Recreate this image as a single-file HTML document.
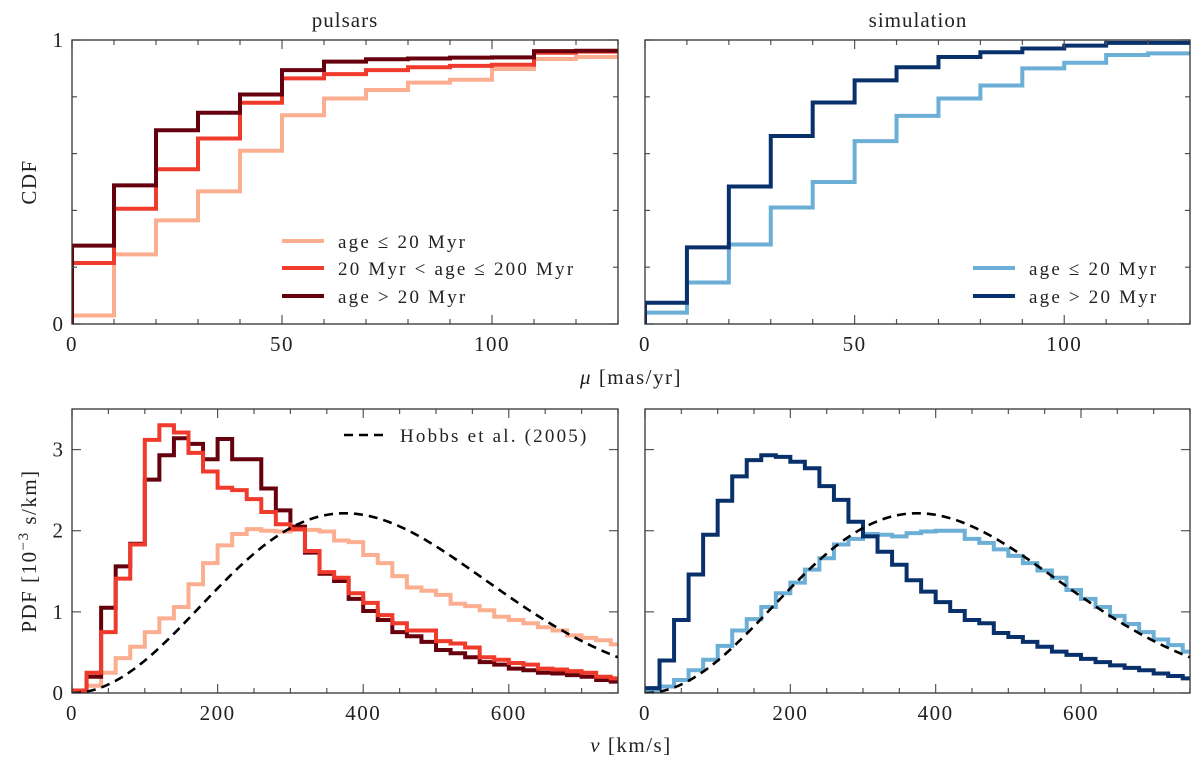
<!DOCTYPE html>
<html><head><meta charset="utf-8"><style>
html,body{margin:0;padding:0;background:#fff;}
svg text{font-family:"Liberation Serif","DejaVu Serif",serif;fill:#222;}
</style></head><body>
<svg id="fig" xmlns="http://www.w3.org/2000/svg" width="1200" height="764" viewBox="0 0 1200 764">
<text x="345" y="27" font-size="21" letter-spacing="1" text-anchor="middle">pulsars</text>
<text x="918" y="27" font-size="21" letter-spacing="1" text-anchor="middle">simulation</text>
<text x="631" y="384" font-size="21" letter-spacing="1.5" text-anchor="middle"><tspan font-style="italic">μ</tspan>  [mas/yr]</text>
<text x="631" y="752" font-size="21" letter-spacing="1.5" text-anchor="middle"><tspan font-style="italic">v</tspan>  [km/s]</text>
<text transform="translate(36,182) rotate(-90)" font-size="21" letter-spacing="1.5" text-anchor="middle">CDF</text>
<text transform="translate(36,551) rotate(-90)" font-size="21" letter-spacing="1.5" text-anchor="middle">PDF  [10<tspan dy="-8" font-size="15">−3</tspan><tspan dy="8"> s/km]</tspan></text>
<g id="plots"></g>
</svg>
<script>
// ---- data ----
const muEdgesStep = 10;
const cdfPulsarYoung = [0.03,0.245,0.365,0.467,0.61,0.735,0.794,0.824,0.85,0.86,0.898,0.933,0.94];
const cdfPulsarMid   = [0.215,0.406,0.545,0.653,0.779,0.865,0.88,0.894,0.904,0.909,0.913,0.955,0.959];
const cdfPulsarOld   = [0.276,0.488,0.682,0.744,0.808,0.894,0.924,0.932,0.935,0.938,0.939,0.961,0.962];
const cdfSimYoung = [0.04,0.146,0.28,0.41,0.5,0.644,0.733,0.794,0.84,0.9,0.92,0.947,0.953];
const cdfSimOld   = [0.075,0.27,0.484,0.662,0.78,0.858,0.904,0.94,0.957,0.97,0.98,0.99,0.99];
const vBinStep = 20;
const pdfPulsarMid = [0.03,0.25,0.75,1.41,1.83,3.12,3.3,3.21,2.96,2.73,2.53,2.5,2.39,2.23,2.08,2.02,1.75,1.49,1.42,1.23,1.11,0.96,0.86,0.77,0.77,0.64,0.61,0.56,0.44,0.41,0.37,0.35,0.3,0.29,0.27,0.25,0.2,0.18];
const pdfPulsarOld = [0.03,0.2,1.05,1.56,1.84,2.63,2.93,3.14,3.07,2.88,3.13,2.88,2.88,2.52,2.25,2.05,1.73,1.47,1.38,1.16,1.01,0.9,0.75,0.7,0.63,0.53,0.49,0.44,0.38,0.35,0.3,0.28,0.25,0.24,0.22,0.2,0.16,0.14];
const pdfPulsarYoung = [0.03,0.09,0.25,0.43,0.57,0.75,0.92,1.06,1.34,1.6,1.82,1.96,2.02,2.0,1.99,2.01,2.01,1.99,1.88,1.86,1.7,1.6,1.44,1.3,1.26,1.21,1.1,1.07,1.02,0.94,0.9,0.86,0.81,0.77,0.71,0.68,0.65,0.6];
const pdfSimOld = [0.06,0.4,0.9,1.46,1.95,2.37,2.67,2.87,2.93,2.91,2.85,2.77,2.55,2.38,2.11,1.93,1.74,1.58,1.39,1.25,1.12,1.01,0.9,0.86,0.74,0.69,0.63,0.57,0.51,0.47,0.42,0.38,0.34,0.31,0.28,0.24,0.21,0.18];
const pdfSimYoung = [0.02,0.08,0.16,0.28,0.41,0.58,0.77,0.91,1.06,1.23,1.36,1.52,1.66,1.83,1.9,1.96,1.95,1.93,1.97,1.99,2.0,2.0,1.9,1.85,1.77,1.69,1.6,1.51,1.42,1.27,1.16,1.06,0.95,0.85,0.75,0.66,0.59,0.51];
const hobbsSigma = 265; // km/s, Maxwellian
const muTickLabels = ["0","50","100"];
const cdfTickLabels = ["0","1"];
const vTickLabels = ["0","200","400","600"];
const pdfTickLabels = ["0","1","2","3"];

const NS = "http://www.w3.org/2000/svg";
const root = document.getElementById('plots');
function mk(tag, attrs, parent){const e=document.createElementNS(NS,tag);for(const k in attrs)e.setAttribute(k,attrs[k]);(parent||root).appendChild(e);return e;}

function panel(name, x0,x1,y0,y1, xmax,ymax, xMajor,xMinor,yMajor,yMinor, xLabels,yLabels){
  const g=mk('g',{});
  
  
  const sx=v=>x0+(v/xmax)*(x1-x0), sy=v=>y1-(v/ymax)*(y1-y0);
  const clipId=name+'-clip';
  const cp=mk('clipPath',{id:clipId},g); mk('rect',{x:x0,y:y0,width:x1-x0,height:y1-y0},cp);
  const plot=mk('g',{'clip-path':'url(#'+clipId+')'},g);
  const ticks=mk('g',{stroke:'#555','stroke-width':1.2},g);
  for(let v=0; v<=xmax+1e-9; v+=xMinor){
    const maj=Math.abs(v/xMajor-Math.round(v/xMajor))<1e-6, L=maj?9:5, X=sx(v);
    mk('line',{x1:X,y1:y1,x2:X,y2:y1-L},ticks); mk('line',{x1:X,y1:y0,x2:X,y2:y0+L},ticks);
  }
  for(let v=0; v<=ymax+1e-9; v+=yMinor){
    const maj=Math.abs(v/yMajor-Math.round(v/yMajor))<1e-6, L=maj?9:5, Y=sy(v);
    mk('line',{x1:x0,y1:Y,x2:x0+L,y2:Y},ticks); mk('line',{x1:x1,y1:Y,x2:x1-L,y2:Y},ticks);
  }
  const fr=mk('rect',{x:x0,y:y0,width:x1-x0,height:y1-y0,fill:'none',stroke:'#333','stroke-width':1.3},g);
  
  
  xLabels.forEach(s=>{const t=mk('text',{x:sx(+s),y:y1+27,'font-size':21,'letter-spacing':1.5,'text-anchor':'middle'},g);t.textContent=s;
    
    });
  yLabels.forEach(s=>{const t=mk('text',{x:x0-9,y:sy(+s)+7,'font-size':21,'text-anchor':'end'},g);t.textContent=s;
    
    });
  return {g,plot,sx,sy,xmax};
}
function step(p, vals, w, color, name, startZero){
  let d='', first=true;
  vals.forEach((v,i)=>{const a=p.sx(i*w), b=p.sx(Math.min((i+1)*w,p.xmax)), Y=p.sy(v);
    if(first){d+= startZero? 'M'+a+','+p.sy(0)+' L'+a+','+Y : 'M'+a+','+Y; first=false;} else d+=' L'+a+','+Y;
    d+=' L'+b+','+Y;});
  const e=mk('path',{d:d,fill:'none',stroke:color,'stroke-width':4,'stroke-linejoin':'miter'},p.plot);
  
  
}
function hobbs(p){
  let d='';
  for(let v=0; v<=750; v+=5){const f=Math.sqrt(2/Math.PI)*v*v/Math.pow(hobbsSigma,3)*Math.exp(-v*v/(2*hobbsSigma*hobbsSigma))*1000;
    d+=(v===0?'M':' L')+p.sx(v)+','+p.sy(f);}
  const e=mk('path',{d:d,fill:'none',stroke:'#000','stroke-width':2.6,'stroke-dasharray':'9,6'},p.plot);
  
  
}
function legend(parent, x, y, color, label, dashed, name){
  const g=mk('g',{},parent);
  
  
  mk('line',{x1:x,y1:y,x2:x+42,y2:y,stroke:color,'stroke-width':dashed?2.6:4,'stroke-dasharray':dashed?'9,6':'none'},g);
  const t=mk('text',{x:x+56,y:y+7,'font-size':19,'letter-spacing':2.2},g); t.innerHTML=label;
}
const c1='#fcae91', c2='#f03b2c', c3='#67000d', b1='#6baed6', b2='#08306b';

const p1=panel('cdf-pulsars-panel',72,618,40,324,130,1,50,10,1,0.2,muTickLabels,cdfTickLabels);
step(p1,cdfPulsarYoung,muEdgesStep,c1,'cdf-young-pulsars',true);
step(p1,cdfPulsarMid,muEdgesStep,c2,'cdf-mid-pulsars',true);
step(p1,cdfPulsarOld,muEdgesStep,c3,'cdf-old-pulsars',true);
legend(p1.g,282,241,c1,'age ≤ 20 Myr',false,'legend-entry-young');
legend(p1.g,282,268,c2,'20 Myr &lt; age ≤ 200 Myr',false,'legend-entry-mid');
legend(p1.g,282,296,c3,'age &gt; 20 Myr',false,'legend-entry-old');

const p2=panel('cdf-simulation-panel',645,1190,40,324,130,1,50,10,1,0.2,muTickLabels,[]);
step(p2,cdfSimYoung,muEdgesStep,b1,'cdf-young-sim',true);
step(p2,cdfSimOld,muEdgesStep,b2,'cdf-old-sim',true);
legend(p2.g,973,268,b1,'age ≤ 20 Myr',false,'legend-entry-sim-young');
legend(p2.g,973,296,b2,'age &gt; 20 Myr',false,'legend-entry-sim-old');

const p3=panel('pdf-pulsars-panel',72,618,409,693,750,3.5,200,50,1,1,vTickLabels,pdfTickLabels);
step(p3,pdfPulsarYoung,vBinStep,c1,'pdf-young-pulsars',false);
step(p3,pdfPulsarOld,vBinStep,c3,'pdf-old-pulsars',false);
step(p3,pdfPulsarMid,vBinStep,c2,'pdf-mid-pulsars',false);
hobbs(p3);
legend(p3.g,344,435,'#000','Hobbs et al. (2005)',true,'legend-entry-hobbs');

const p4=panel('pdf-simulation-panel',645,1190,409,693,750,3.5,200,50,1,1,vTickLabels,[]);
step(p4,pdfSimYoung,vBinStep,b1,'pdf-young-sim',false);
step(p4,pdfSimOld,vBinStep,b2,'pdf-old-sim',false);
hobbs(p4);
</script>
</body></html>
